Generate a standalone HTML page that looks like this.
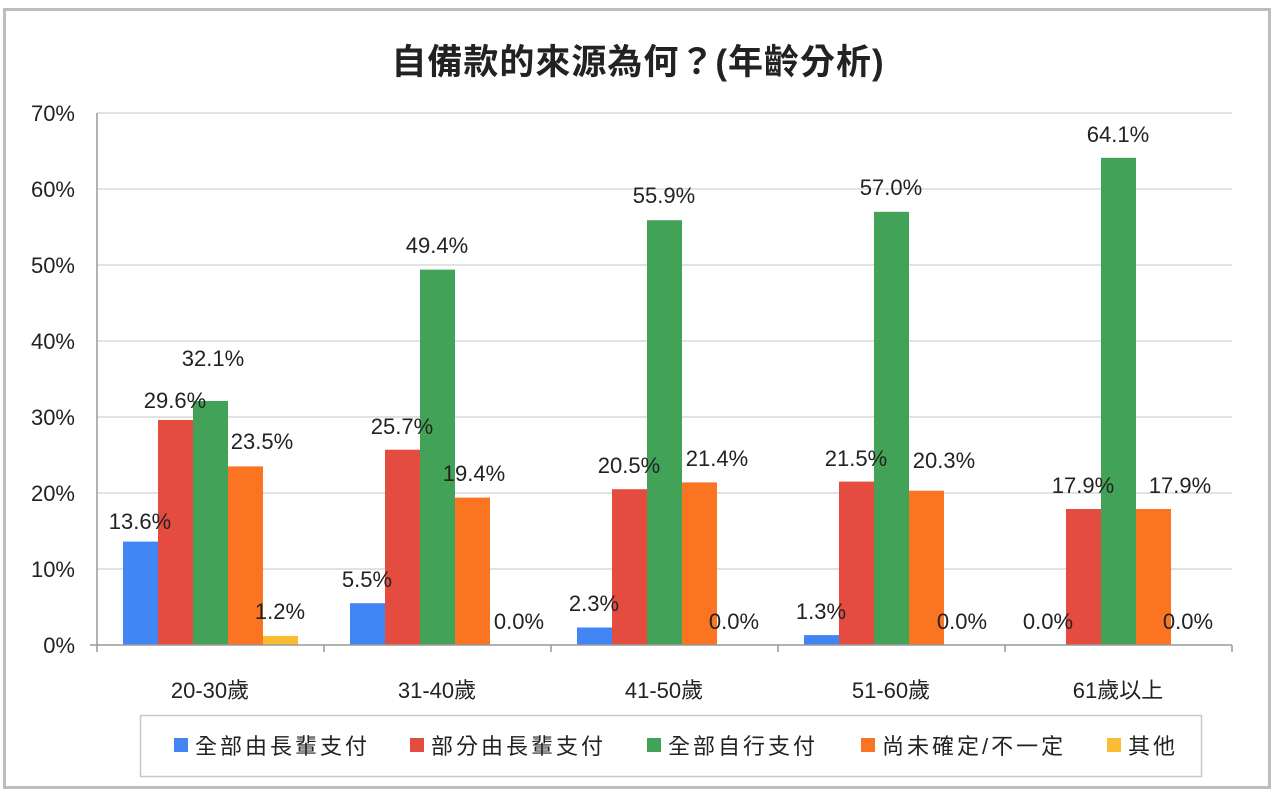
<!DOCTYPE html>
<html><head><meta charset="utf-8"><style>
html,body{margin:0;padding:0;background:#fff;}
svg text{font-family:"Liberation Sans","Noto Sans CJK TC",sans-serif;fill:#222;}
</style></head><body>
<svg width="1277" height="801" xmlns="http://www.w3.org/2000/svg">
<rect x="4.5" y="9.5" width="1265" height="778" fill="#fff" stroke="#bdbdbd" stroke-width="3"/>
<text x="638" y="74" font-size="35" text-anchor="middle" font-weight="bold" letter-spacing="1">自備款的來源為何？(年齡分析)</text>
<g stroke="#d9d9d9" stroke-width="1.5">
<line x1="97" y1="113" x2="1232" y2="113"/><line x1="97" y1="189" x2="1232" y2="189"/>
<line x1="97" y1="265" x2="1232" y2="265"/><line x1="97" y1="341" x2="1232" y2="341"/>
<line x1="97" y1="417" x2="1232" y2="417"/><line x1="97" y1="493" x2="1232" y2="493"/>
<line x1="97" y1="569" x2="1232" y2="569"/>
</g>
<g font-size="22" text-anchor="end">
<text x="75" y="121">70%</text><text x="75" y="197">60%</text><text x="75" y="273">50%</text>
<text x="75" y="349">40%</text><text x="75" y="425">30%</text><text x="75" y="501">20%</text>
<text x="75" y="577">10%</text><text x="75" y="653">0%</text>
</g>
<g>
<rect x="123" y="541.6" width="35" height="103.4" fill="#4285f4"/>
<rect x="158" y="420" width="35" height="225" fill="#e34c3f"/>
<rect x="193" y="401" width="35" height="244" fill="#42a257"/>
<rect x="228" y="466.4" width="35" height="178.6" fill="#fa7421"/>
<rect x="263" y="635.9" width="35" height="9.1" fill="#f9bc33"/>
<rect x="350" y="603.2" width="35" height="41.8" fill="#4285f4"/>
<rect x="385" y="449.7" width="35" height="195.3" fill="#e34c3f"/>
<rect x="420" y="269.6" width="35" height="375.4" fill="#42a257"/>
<rect x="455" y="497.6" width="35" height="147.4" fill="#fa7421"/>
<rect x="577" y="627.5" width="35" height="17.5" fill="#4285f4"/>
<rect x="612" y="489.2" width="35" height="155.8" fill="#e34c3f"/>
<rect x="647" y="220.2" width="35" height="424.8" fill="#42a257"/>
<rect x="682" y="482.4" width="35" height="162.6" fill="#fa7421"/>
<rect x="804" y="635.1" width="35" height="9.9" fill="#4285f4"/>
<rect x="839" y="481.6" width="35" height="163.4" fill="#e34c3f"/>
<rect x="874" y="211.8" width="35" height="433.2" fill="#42a257"/>
<rect x="909" y="490.7" width="35" height="154.3" fill="#fa7421"/>
<rect x="1066" y="509" width="35" height="136" fill="#e34c3f"/>
<rect x="1101" y="157.8" width="35" height="487.2" fill="#42a257"/>
<rect x="1136" y="509" width="35" height="136" fill="#fa7421"/>
</g>
<g font-size="22" text-anchor="middle">
<text x="140" y="529">13.6%</text><text x="175" y="408">29.6%</text><text x="213" y="366">32.1%</text>
<text x="262" y="449">23.5%</text><text x="280" y="619">1.2%</text>
<text x="367" y="587">5.5%</text><text x="402" y="434">25.7%</text><text x="437" y="253">49.4%</text>
<text x="474" y="481">19.4%</text><text x="519" y="629">0.0%</text>
<text x="594" y="611">2.3%</text><text x="629" y="473">20.5%</text><text x="664" y="203">55.9%</text>
<text x="717" y="466">21.4%</text><text x="734" y="629">0.0%</text>
<text x="821" y="619">1.3%</text><text x="856" y="466">21.5%</text><text x="891" y="195">57.0%</text>
<text x="944" y="468">20.3%</text><text x="962" y="629">0.0%</text>
<text x="1048" y="629">0.0%</text><text x="1083" y="493">17.9%</text><text x="1118" y="142">64.1%</text>
<text x="1180" y="493">17.9%</text><text x="1188" y="629">0.0%</text>
</g>
<g stroke="#999" stroke-width="1.5" fill="none">
<line x1="97" y1="113" x2="97" y2="645"/>
<line x1="90" y1="645" x2="1232" y2="645"/>
<line x1="324" y1="645" x2="324" y2="652"/><line x1="551" y1="645" x2="551" y2="652"/>
<line x1="778" y1="645" x2="778" y2="652"/><line x1="1005" y1="645" x2="1005" y2="652"/>
<line x1="1232" y1="645" x2="1232" y2="652"/><line x1="97" y1="645" x2="97" y2="652"/>
</g>
<g font-size="22" text-anchor="middle">
<text x="210" y="698">20-30歲</text><text x="437" y="698">31-40歲</text><text x="664" y="698">41-50歲</text>
<text x="891" y="698">51-60歲</text><text x="1118" y="698">61歲以上</text>
</g>
<rect x="140.5" y="715.5" width="1061" height="61" fill="#fff" stroke="#c8c8c8" stroke-width="1.5"/>
<g font-size="22" letter-spacing="3">
<rect x="174" y="738" width="14" height="14" fill="#4285f4"/><text x="195" y="754">全部由長輩支付</text>
<rect x="410" y="738" width="14" height="14" fill="#e34c3f"/><text x="431" y="754">部分由長輩支付</text>
<rect x="647" y="738" width="14" height="14" fill="#42a257"/><text x="668" y="754">全部自行支付</text>
<rect x="861" y="738" width="14" height="14" fill="#fa7421"/><text x="882" y="754">尚未確定/不一定</text>
<rect x="1107" y="738" width="14" height="14" fill="#f9bc33"/><text x="1128" y="754">其他</text>
</g>
</svg>
</body></html>
